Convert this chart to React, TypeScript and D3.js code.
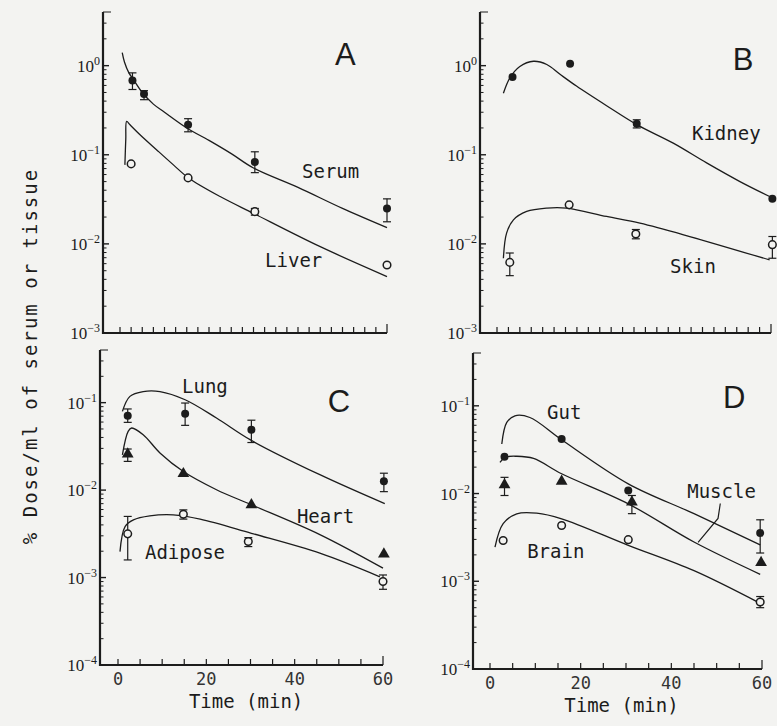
import React, { useEffect, useRef } from 'react';
import * as d3 from 'd3';

// [time (min), value, errLow?, errHigh?]
type Obs = [number, number, number?, number?];
type Pt = [number, number];

// ---- Panel A
const serumObs: Obs[] = [[2.8, 0.68, 0.54, 0.83], [5.4, 0.48, 0.415, 0.524], [15.3, 0.217, 0.181, 0.254], [30.3, 0.083, 0.063, 0.108], [60, 0.025, 0.0177, 0.032]];
const serumFit: Pt[] = [[0.5, 1.4], [1, 1.1], [2, 0.83], [3, 0.7], [5, 0.5], [7.5, 0.37], [10, 0.3], [15, 0.2], [20, 0.145], [25, 0.103], [30, 0.071], [40, 0.043], [50, 0.025], [60, 0.0152]];
const liverObs: Obs[] = [[2.5, 0.079], [15.3, 0.055], [30.3, 0.023, 0.021, 0.025], [60, 0.0058]];
const liverFit: Pt[] = [[1.1, 0.077], [1.3, 0.15], [1.5, 0.237], [2.25, 0.217], [4.5, 0.168], [8.2, 0.114], [12, 0.077], [15.4, 0.055], [22.5, 0.034], [30, 0.022], [45, 0.0093], [60, 0.0043]];

// ---- Panel B
const kidneyObs: Obs[] = [[3.4, 0.746], [16, 1.05], [30.6, 0.223, 0.2, 0.247], [60.3, 0.032]];
const kidneyFit: Pt[] = [[1.4, 0.49], [2.8, 0.727], [5, 0.98], [8, 1.12], [10.9, 1.03], [13.8, 0.8], [17.4, 0.59], [24, 0.355], [30.6, 0.218], [38.6, 0.135], [45.9, 0.081], [53.2, 0.05], [59.7, 0.034]];
const skinObs: Obs[] = [[2.8, 0.0062, 0.0044, 0.0079], [15.8, 0.0274], [30.4, 0.0129, 0.0114, 0.0145], [60.3, 0.0098, 0.0069, 0.0121]];
const skinFit: Pt[] = [[1.4, 0.0069], [2.1, 0.0132], [3.6, 0.0186], [6.5, 0.0231], [10.9, 0.0252], [15.2, 0.0252], [24, 0.0203], [31.3, 0.0171], [42.2, 0.0121], [59.7, 0.0066]];

// ---- Panel C
const lungObs: Obs[] = [[2.2, 0.071, 0.0595, 0.0847], [15.2, 0.0748, 0.055, 0.099], [30.2, 0.049, 0.035, 0.063], [60.2, 0.0126, 0.0096, 0.0156]];
const lungFit: Pt[] = [[1, 0.0795], [2.7, 0.118], [5.7, 0.134], [9.5, 0.134], [15.2, 0.108], [22.3, 0.0668], [30.2, 0.037], [45.7, 0.015], [60.4, 0.007]];
const heartObs: Obs[] = [[2.2, 0.0258, 0.0213, 0.0295], [14.8, 0.0154], [30.2, 0.0068], [60.2, 0.00186]];
const heartFit: Pt[] = [[1, 0.0253], [2.3, 0.0469], [3.1, 0.0513], [5.7, 0.043], [9.5, 0.0266], [14.8, 0.0163], [22.3, 0.0101], [30.2, 0.0068], [45.7, 0.0031], [60, 0.00128]];
const adiposeObs: Obs[] = [[2.2, 0.00316, 0.00159, 0.005], [14.8, 0.0053, 0.00466, 0.00594], [29.5, 0.00258, 0.00226, 0.00286], [60, 0.0009, 0.000734, 0.00107]];
const adiposeFit: Pt[] = [[0.45, 0.00198], [1.6, 0.00383], [3.5, 0.00457], [7.2, 0.00508], [12.5, 0.00522], [18.6, 0.00466], [30.2, 0.00321], [45.7, 0.0019], [59.3, 0.00102]];

// ---- Panel D
const gutObs: Obs[] = [[3.2, 0.0263], [15.8, 0.0418], [30.5, 0.0108], [59.6, 0.00354, 0.0021, 0.00502]];
const gutFit: Pt[] = [[2.6, 0.0367], [3.7, 0.0646], [5.5, 0.077], [8.8, 0.0736], [15.8, 0.041], [30.5, 0.0129], [45, 0.0059], [59.6, 0.0026]];
const muscleObs: Obs[] = [[3.2, 0.0126, 0.0095, 0.0153], [15.8, 0.0138], [31.3, 0.008, 0.0059, 0.0095], [59.8, 0.00163]];
const muscleFit: Pt[] = [[2.2, 0.0227], [3.3, 0.0259], [5.9, 0.0266], [9.6, 0.0251], [15.8, 0.0168], [30.5, 0.00764], [45, 0.0028], [59.6, 0.0012]];
const brainObs: Obs[] = [[2.9, 0.00292], [15.8, 0.00433], [30.5, 0.00298], [59.6, 0.00058, 0.0005, 0.00067]];
const brainFit: Pt[] = [[1.1, 0.00245], [2.9, 0.00453], [5.9, 0.00587], [10.3, 0.00597], [15.8, 0.00515], [30.5, 0.00257], [45, 0.00132], [59.6, 0.00056]];
const muscleLeader: Pt[] = [[50.8, 0.0077], [50.3, 0.0052], [45.9, 0.00277]];

const xLabelTicks = [0, 20, 40, 60];

type Marker = 'dot' | 'open' | 'tri';
interface Series { obs: Obs[]; fit: Pt[]; marker: Marker }
interface Label { text: string; t: number; v: number; big?: boolean }
interface PanelDef {
  axisX: number; x0: number; x60: number; yTop: number; yBot: number;
  vMin: number; vMax: number; xStep: number; xLabels: boolean;
  series: Series[]; labels: Label[]; leader?: Pt[];
}

const panels: PanelDef[] = [
  {
    axisX: 103, x0: 120, x60: 387, yTop: 12, yBot: 333, vMin: 1e-3, vMax: 4, xStep: 2.5, xLabels: false,
    series: [
      { obs: serumObs, fit: serumFit, marker: 'dot' },
      { obs: liverObs, fit: liverFit, marker: 'open' },
    ],
    labels: [
      { text: 'A', t: 48.3, v: 1.026, big: true },
      { text: 'Serum', t: 40.9, v: 0.0552 },
      { text: 'Liver', t: 32.6, v: 0.00552 },
    ],
  },
  {
    axisX: 480, x0: 497, x60: 771, yTop: 12, yBot: 333, vMin: 1e-3, vMax: 4, xStep: 2.5, xLabels: false,
    series: [
      { obs: kidneyObs, fit: kidneyFit, marker: 'dot' },
      { obs: skinObs, fit: skinFit, marker: 'open' },
    ],
    labels: [
      { text: 'B', t: 51.6, v: 0.902, big: true },
      { text: 'Kidney', t: 42.7, v: 0.1475 },
      { text: 'Skin', t: 37.9, v: 0.00472 },
    ],
  },
  {
    axisX: 100, x0: 118, x60: 383, yTop: 350, yBot: 665, vMin: 1e-4, vMax: 0.4, xStep: 5, xLabels: true,
    series: [
      { obs: lungObs, fit: lungFit, marker: 'dot' },
      { obs: heartObs, fit: heartFit, marker: 'tri' },
      { obs: adiposeObs, fit: adiposeFit, marker: 'open' },
    ],
    labels: [
      { text: 'C', t: 47.5, v: 0.0789, big: true },
      { text: 'Lung', t: 14.5, v: 0.13 },
      { text: 'Heart', t: 40.5, v: 0.00422 },
      { text: 'Adipose', t: 6.1, v: 0.00163 },
    ],
  },
  {
    axisX: 473, x0: 490, x60: 762, yTop: 353, yBot: 669, vMin: 1e-4, vMax: 0.4, xStep: 5, xLabels: true,
    series: [
      { obs: gutObs, fit: gutFit, marker: 'dot' },
      { obs: muscleObs, fit: muscleFit, marker: 'tri' },
      { obs: brainObs, fit: brainFit, marker: 'open' },
    ],
    labels: [
      { text: 'D', t: 51.4, v: 0.0949, big: true },
      { text: 'Gut', t: 12.6, v: 0.0711 },
      { text: 'Muscle', t: 43.5, v: 0.00901 },
      { text: 'Brain', t: 8.2, v: 0.00182 },
    ],
    leader: muscleLeader,
  },
];

const BG = '#f3f3f1';
const INK = '#1c1c1c';
const MONO = '"DejaVu Sans Mono", monospace';

const App: React.FC = () => {
  const svgRef = useRef<SVGSVGElement>(null);

  useEffect(() => {
    if (!svgRef.current) return;
    const svg = d3.select(svgRef.current);
    svg.selectAll('*').remove();

    svg.append('rect').attr('width', 777).attr('height', 726).attr('fill', BG);

    panels.forEach((p) => {
      const x = d3.scaleLinear().domain([0, 60]).range([p.x0, p.x60]);
      const y = d3.scaleLog().domain([p.vMin, p.vMax]).range([p.yBot, p.yTop]);
      const g = svg.append('g');

      // axis lines
      g.append('line')
        .attr('x1', p.axisX).attr('x2', p.axisX)
        .attr('y1', p.yTop).attr('y2', p.yBot + 1)
        .attr('stroke', INK).attr('stroke-width', 2.2);
      g.append('line')
        .attr('x1', p.axisX - 1).attr('x2', x(60))
        .attr('y1', p.yBot).attr('y2', p.yBot)
        .attr('stroke', INK).attr('stroke-width', 2.2);

      // y ticks (log, inside)
      const kLo = Math.round(Math.log10(p.vMin));
      const kHi = Math.ceil(Math.log10(p.vMax));
      for (let k = kLo; k <= kHi; k++) {
        for (let m = 1; m <= 9; m++) {
          const v = m * Math.pow(10, k);
          if (v > p.vMax * 1.0001) break;
          let len = m === 1 ? 6 : 3.5;
          if (Math.abs(v - p.vMax) < p.vMax * 1e-4) len = 8;
          g.append('line')
            .attr('x1', p.axisX).attr('x2', p.axisX + len)
            .attr('y1', y(v)).attr('y2', y(v))
            .attr('stroke', INK).attr('stroke-width', m === 1 ? 1.4 : 1);
        }
        const vk = Math.pow(10, k);
        if (vk >= p.vMin && vk <= p.vMax) {
          const t = g.append('text')
            .attr('x', p.axisX - 3)
            .attr('y', y(vk) + 6)
            .attr('text-anchor', 'end')
            .attr('font-family', '"Liberation Serif", serif')
            .attr('font-size', 17)
            .attr('fill', INK);
          t.append('tspan').text('10');
          t.append('tspan').attr('dy', -7).attr('font-size', 12).text(String(k).replace('-', '\u2212'));
        }
      }

      // x ticks (inside, pointing up)
      d3.range(0, 60 + 1e-6, p.xStep).forEach((tk) => {
        g.append('line')
          .attr('x1', x(tk)).attr('x2', x(tk))
          .attr('y1', p.yBot).attr('y2', p.yBot - (tk === 60 ? 9 : 6))
          .attr('stroke', INK).attr('stroke-width', 1.2);
      });
      if (p.xLabels) {
        xLabelTicks.forEach((tk) => {
          g.append('text')
            .attr('x', x(tk)).attr('y', p.yBot + 20)
            .attr('text-anchor', 'middle')
            .attr('font-family', MONO).attr('font-size', 17)
            .attr('fill', '#333')
            .text(tk);
        });
        g.append('text')
          .attr('x', x(29)).attr('y', p.yBot + 43)
          .attr('text-anchor', 'middle')
          .attr('font-family', MONO).attr('font-size', 19)
          .attr('fill', INK)
          .text('Time (min)');
      }

      // fitted curves
      const line = d3.line<Pt>()
        .x((d) => x(d[0]))
        .y((d) => y(d[1]))
        .curve(d3.curveCatmullRom.alpha(0.5));
      p.series.forEach((s) => {
        g.append('path')
          .attr('d', line(s.fit))
          .attr('fill', 'none')
          .attr('stroke', INK)
          .attr('stroke-width', 1.3);
      });

      if (p.leader) {
        g.append('path')
          .attr('d', d3.line<Pt>().x((d) => x(d[0])).y((d) => y(d[1]))(p.leader))
          .attr('fill', 'none').attr('stroke', INK).attr('stroke-width', 1.2);
      }

      // error bars + markers
      p.series.forEach((s) => {
        s.obs.forEach((o) => {
          const cx = x(o[0]);
          const cy = y(o[1]);
          if (o[2] !== undefined && o[3] !== undefined) {
            const y1 = y(o[2]);
            const y2 = y(o[3]);
            g.append('line').attr('x1', cx).attr('x2', cx).attr('y1', y1).attr('y2', y2)
              .attr('stroke', INK).attr('stroke-width', 1.2);
            [y1, y2].forEach((yy) => {
              g.append('line').attr('x1', cx - 4).attr('x2', cx + 4).attr('y1', yy).attr('y2', yy)
                .attr('stroke', INK).attr('stroke-width', 1.2);
            });
          }
          if (s.marker === 'dot') {
            g.append('circle').attr('cx', cx).attr('cy', cy).attr('r', 4).attr('fill', INK);
          } else if (s.marker === 'open') {
            g.append('circle').attr('cx', cx).attr('cy', cy).attr('r', 3.8)
              .attr('fill', BG).attr('stroke', INK).attr('stroke-width', 1.5);
          } else {
            g.append('path')
              .attr('d', d3.symbol().type(d3.symbolTriangle).size(60)())
              .attr('transform', `translate(${cx},${cy})`)
              .attr('fill', INK);
          }
        });
      });

      // labels
      p.labels.forEach((l) => {
        g.append('text')
          .attr('x', x(l.t)).attr('y', y(l.v))
          .attr('font-family', l.big ? '"Liberation Sans", Arial, sans-serif' : MONO)
          .attr('font-size', l.big ? 31 : 19)
          .attr('fill', INK)
          .text(l.text);
      });
    });

    // shared y-axis title
    svg.append('text')
      .attr('transform', 'translate(37,356) rotate(-90)')
      .attr('text-anchor', 'middle')
      .attr('font-family', MONO)
      .attr('font-size', 19)
      .attr('letter-spacing', 2)
      .attr('fill', INK)
      .text('% Dose/ml of serum or tissue');
  }, []);

  return (
    <svg
      ref={svgRef}
      width={777}
      height={726}
      style={{ position: 'absolute', left: 0, top: 0, display: 'block' }}
    />
  );
};

export default App;
